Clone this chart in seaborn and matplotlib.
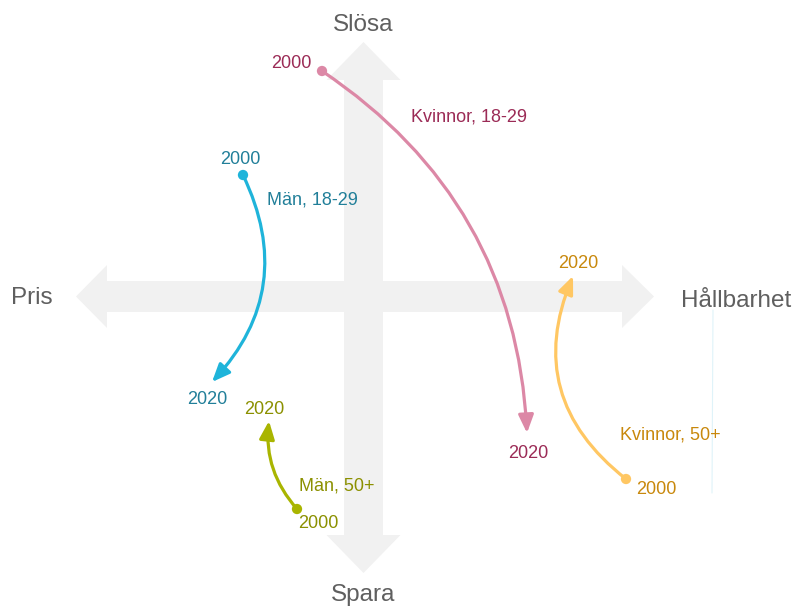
import matplotlib
matplotlib.use("Agg")
import matplotlib.pyplot as plt
import seaborn as sns
import pandas as pd

sns.set_theme(style="white")
plt.rcParams['font.family'] = ['Liberation Sans', 'DejaVu Sans']

# ---- data (positions on the perception map) ----
groups = ["Kvinnor, 18-29", "Män, 18-29", "Män, 50+", "Kvinnor, 50+"]
x2000 = [322, 243, 297, 626]
y2000 = [71, 175, 509, 479]
x2020 = [527, 212, 269, 573]
y2020 = [433, 382, 421, 276]
year_start = "2000"
year_end = "2020"
axis_labels = ["Slösa", "Spara", "Pris", "Hållbarhet"]

line_colors = ["#dc88a6", "#1fb4da", "#a9b500", "#ffc763"]
text_colors = ["#9b2b56", "#217f99", "#8b9000", "#c8880c"]
curvature = [-0.25, -0.34, -0.22, -0.38]

df = pd.DataFrame({"group": groups, "x": x2000, "y": y2000})

fig = plt.figure(figsize=(7.92, 6.07), dpi=100)
ax = fig.add_axes([0, 0, 1, 1])
ax.set_xlim(0, 792)
ax.set_ylim(607, 0)
ax.axis("off")

grey = "#f1f1f1"
cx, cy = 363.5, 296.5
# vertical double arrow
vs, vh = 19.5, 37
ax.fill([cx, cx + vh, cx + vs, cx + vs, cx + vh, cx, cx - vh, cx - vs, cx - vs, cx - vh],
        [42, 80, 80, 535, 535, 573, 535, 535, 80, 80], color=grey, lw=0, zorder=0)
# horizontal double arrow
hs, hh = 15.5, 31.5
ax.fill([76, 107, 107, 622, 622, 654, 622, 622, 107, 107],
        [cy, cy - hh, cy - hs, cy - hs, cy - hh, cy, cy + hh, cy + hs, cy + hs, cy + hh],
        color=grey, lw=0, zorder=0)

# faint artefact line
ax.plot([713, 712], [310, 493], color="#dff3f9", lw=0.8, zorder=0)

lab_kw = dict(color="#5f5f5f", fontsize=17.5, ha="center", va="center")
ax.text(cx, 25, axis_labels[0], **lab_kw)
ax.text(cx, 595, axis_labels[1], **lab_kw)
ax.text(32, 298, axis_labels[2], **lab_kw)
ax.text(736, 301, axis_labels[3], **lab_kw)

# arrows
for i in range(len(groups)):
    ax.annotate("", xy=(x2020[i], y2020[i]), xytext=(x2000[i], y2000[i]),
                arrowprops=dict(arrowstyle="-|>,head_length=0.9,head_width=0.38",
                                mutation_scale=12, color=line_colors[i], lw=2.3,
                                shrinkA=0, shrinkB=0,
                                connectionstyle=f"arc3,rad={curvature[i]}"),
                zorder=2)

sns.scatterplot(data=df, x="x", y="y", hue="group", palette=line_colors,
                s=55, linewidth=0, legend=False, ax=ax, zorder=3)
ax.set_xlim(0, 792)
ax.set_ylim(607, 0)
ax.axis("off")

fs = 13
# labels: start year, end year, group name
start_pos = [(291, 64), (240, 160), (318, 524), (656, 489)]
end_pos = [(528, 454), (207, 399), (264, 410), (578, 264)]
name_pos = [(469, 117), (312, 200), (337, 486), (670, 435)]
for i in range(len(groups)):
    ax.text(*start_pos[i], year_start, color=text_colors[i], fontsize=fs, ha="center", va="center")
    ax.text(*end_pos[i], year_end, color=text_colors[i], fontsize=fs, ha="center", va="center")
    ax.text(*name_pos[i], groups[i], color=text_colors[i], fontsize=fs, ha="center", va="center")

fig.savefig("out.png", dpi=100)
